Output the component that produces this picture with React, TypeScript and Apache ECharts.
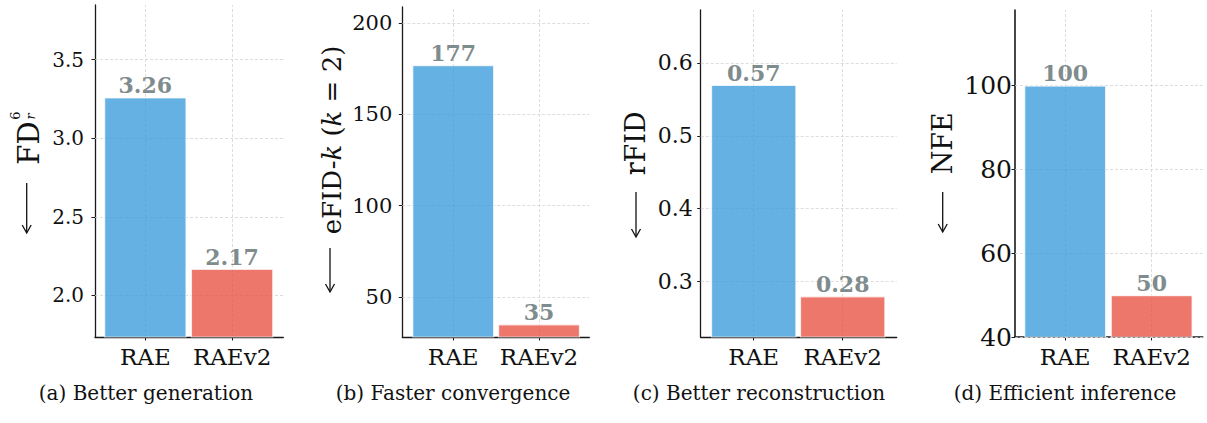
import React, { useEffect, useRef } from 'react';
import * as echarts from 'echarts';

const categories = ['RAE', 'RAEv2'];
const genValues = [3.26, 2.17];
const convValues = [177, 35];
const reconValues = [0.57, 0.28];
const inferValues = [100, 50];
const genTicks = [2.0, 2.5, 3.0, 3.5];
const convTicks = [50, 100, 150, 200];
const reconTicks = [0.3, 0.4, 0.5, 0.6];
const inferTicks = [40, 60, 80, 100];
const captions = [
  '(a) Better generation',
  '(b) Faster convergence',
  '(c) Better reconstruction',
  '(d) Efficient inference',
];

const FONT = 'DejaVu Serif';
const barColors = ['rgba(52,152,219,0.76)', 'rgba(231,76,60,0.76)'];
const labelGray = '#7f8c8d';
const axisColor = '#1a1a1a';

const panels = [
  { values: genValues, ticks: genTicks, dec: 2, tickDec: 1, left: 95, width: 188.3, top: 5, xMin: -0.58, xMax: 1.59, barW: 82.5, tickFont: 20, tickMargin: 11, capX: 146, axisW: 1.3 },
  { values: convValues, ticks: convTicks, dec: 0, tickDec: 0, left: 402.3, width: 187, top: 7, xMin: -0.593, xMax: 1.586, barW: 82, tickFont: 21, tickMargin: 10, capX: 453, axisW: 1.3 },
  { values: reconValues, ticks: reconTicks, dec: 2, tickDec: 1, left: 700.7, width: 196, top: 10, xMin: -0.596, xMax: 1.607, barW: 85.5, tickFont: 22, tickMargin: 8, capX: 759, axisW: 1.3 },
  { values: inferValues, ticks: inferTicks, dec: 0, tickDec: 0, left: 1015, width: 187.7, top: 10, xMin: -0.58, xMax: 1.59, barW: 82, tickFont: 25, tickMargin: 3, capX: 1065, axisW: 1.6 },
];
const AXIS_BOTTOM = 337;

function rotText(x: number, y: number, text: string, fontSize: number, extra: any = {}) {
  return {
    type: 'text',
    x,
    y,
    rotation: Math.PI / 2,
    silent: true,
    style: {
      text,
      fontFamily: FONT,
      fontSize,
      fill: '#111',
      align: 'center',
      verticalAlign: 'middle',
      ...extra,
    },
  };
}

function downArrow(x: number, yTop: number, yBottom: number) {
  return [
    {
      type: 'line',
      silent: true,
      shape: { x1: x, y1: yTop, x2: x, y2: yBottom - 0.5 },
      style: { stroke: '#111', lineWidth: 1.3 },
    },
    {
      type: 'polyline',
      silent: true,
      shape: { points: [[x - 4.5, yBottom - 8], [x, yBottom], [x + 4.5, yBottom - 8]] },
      style: { stroke: '#111', lineWidth: 1.3, fill: null },
    },
  ];
}

export default function App() {
  const ref = useRef<HTMLDivElement>(null);
  useEffect(() => {
    if (!ref.current) return;
    const chart = echarts.init(ref.current, undefined, { renderer: 'svg' });
    const grid: any[] = [];
    const xAxis: any[] = [];
    const yAxis: any[] = [];
    const series: any[] = [];
    panels.forEach((p, i) => {
      const yMin = Math.min(...p.values) * 0.8;
      const yMax = Math.max(...p.values) * 1.18;
      grid.push({ left: p.left, top: p.top, width: p.width, height: AXIS_BOTTOM - p.top, containLabel: false });
      xAxis.push({
        gridIndex: i,
        type: 'value',
        min: p.xMin,
        max: p.xMax,
        axisLine: { show: true, onZero: false, lineStyle: { color: axisColor, width: p.axisW } },
        axisTick: { show: true, customValues: [0, 1], length: 3.5, lineStyle: { color: axisColor, width: 1 } },
        axisLabel: {
          customValues: [0, 1],
          formatter: (v: number) => categories[Math.round(v)],
          fontFamily: FONT,
          fontSize: 23,
          color: '#111',
          margin: 8,
        },
        splitLine: { show: false },
      });
      yAxis.push({
        gridIndex: i,
        type: 'value',
        min: yMin,
        max: yMax,
        axisLine: { show: true, onZero: false, lineStyle: { color: axisColor, width: p.axisW } },
        axisTick: { show: true, customValues: p.ticks, length: 3.5, lineStyle: { color: axisColor, width: 1 } },
        axisLabel: {
          customValues: p.ticks,
          formatter: (v: number) => v.toFixed(p.tickDec),
          fontFamily: FONT,
          fontSize: p.tickFont,
          color: '#111',
          margin: p.tickMargin,
        },
        splitLine: { show: false },
      });
      series.push({
        type: 'bar',
        xAxisIndex: i,
        yAxisIndex: i,
        barWidth: p.barW,
        z: 2,
        data: p.values.map((v, j) => ({ value: [j, v], itemStyle: { color: barColors[j] } })),
        itemStyle: { borderColor: 'rgba(255,255,255,0.7)', borderWidth: 1.2 },
        label: {
          show: true,
          position: 'top',
          distance: 1,
          formatter: (d: any) => Number(d.value[1]).toFixed(p.dec),
          fontFamily: FONT,
          fontWeight: 'bold',
          fontSize: 22,
          color: labelGray,
        },
        markLine: {
          silent: true,
          z: 1,
          symbol: ['none', 'none'],
          label: { show: false },
          emphasis: { disabled: true },
          lineStyle: { color: '#d4d4d4', type: [3, 2], width: 0.8 },
          data: [...p.ticks.map((t) => ({ yAxis: t })), { xAxis: 0 }, { xAxis: 1 }],
        },
      });
    });

    const italic = { fontStyle: 'italic' };
    const graphic: any[] = [
      // panel a label: arrow, FD, superscript 6, subscript r
      ...downArrow(26.7, 183, 233),
      rotText(28.5, 143, 'FD', 29),
      rotText(15.5, 115.5, '6', 13),
      rotText(30, 116.5, 'r', 13, italic),
      // panel b
      ...downArrow(330, 248, 292),
      {
        type: 'text',
        x: 332,
        y: 140,
        rotation: Math.PI / 2,
        silent: true,
        style: {
          text: '{n|eFID-}{i|k}{n| (}{i|k}{n| = 2)}',
          fontFamily: FONT,
          fontSize: 26,
          fill: '#111',
          align: 'center',
          verticalAlign: 'middle',
          rich: {
            n: { fontFamily: FONT, fontSize: 26, fill: '#111' },
            i: { fontFamily: FONT, fontSize: 26, fontStyle: 'italic', fill: '#111' },
          },
        },
      },
      // panel c
      ...downArrow(636, 192, 237),
      rotText(635, 143.3, 'rFID', 27),
      // panel d
      ...downArrow(942.7, 192, 232),
      rotText(942.5, 143.3, 'NFE', 27),
    ];
    panels.forEach((p, i) => {
      graphic.push({
        type: 'text',
        x: p.capX,
        y: 393,
        silent: true,
        style: {
          text: captions[i],
          fontFamily: FONT,
          fontSize: 20,
          fill: '#111',
          align: 'center',
          verticalAlign: 'middle',
        },
      });
    });

    chart.setOption({
      animation: false,
      backgroundColor: '#ffffff',
      grid,
      xAxis,
      yAxis,
      series,
      graphic,
    });
    return () => chart.dispose();
  }, []);
  return (
    <div
      ref={ref}
      style={{ position: 'absolute', left: 0, top: 0, width: 1207, height: 423 }}
    />
  );
}
